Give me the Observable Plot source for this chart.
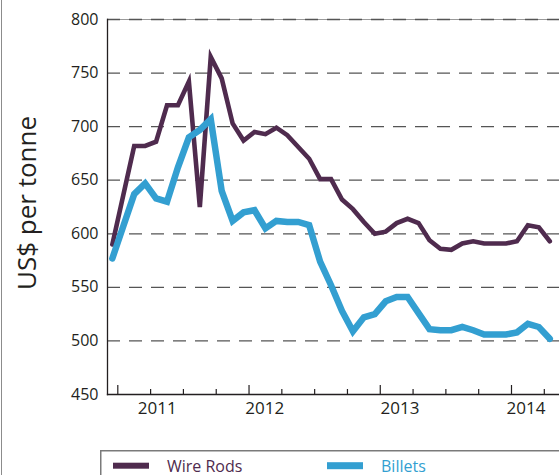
<!DOCTYPE html>
<html><head><meta charset="utf-8">
<script src="https://cdn.jsdelivr.net/npm/d3@7"></script>
<script src="https://cdn.jsdelivr.net/npm/@observablehq/plot@0.6"></script>
<style>
html,body{margin:0;padding:0;background:#fff;}
#wrap{position:relative;width:559px;height:475px;overflow:hidden;font-family:"Open Sans",sans-serif;}
#edge{position:absolute;left:0.5px;top:0;width:1.5px;height:475px;background:#8c8c8c;}
#wrap svg{display:block;}
</style></head><body><div id="wrap"><div id="edge"></div></div>
<script>
// Monthly prices, Dec 2010 – Apr 2014 (US$ per tonne)
const months = ["2010-12","2011-01","2011-02","2011-03","2011-04","2011-05","2011-06","2011-07","2011-08","2011-09","2011-10","2011-11",
  "2011-12","2012-01","2012-02","2012-03","2012-04","2012-05","2012-06","2012-07","2012-08","2012-09","2012-10","2012-11",
  "2012-12","2013-01","2013-02","2013-03","2013-04","2013-05","2013-06","2013-07","2013-08","2013-09","2013-10","2013-11",
  "2013-12","2014-01","2014-02","2014-03","2014-04"];
const wireRods = [590,636,682,682,686,720,720,742,625,765,745,703,
  687,695,693,699,692,681,670,651,651,632,623,611,
  600,602,610,614,610,594,586,585,591,593,591,591,
  591,593,608,606,593];
const billets = [577,607,637,647,633,630,662,690,697,707,640,612,
  620,622,605,612,611,611,608,574,552,528,509,522,
  525,537,541,541,526,511,510,510,513,510,506,506,
  506,508,516,513,502];
const seriesNames = ["Wire Rods","Billets"];
const seriesColors = ["#4f2b4e","#339fd1"];
const yTicks = [450,500,550,600,650,700,750,800];
const gridValues = [500,550,600,650,700,750,800];
const yearTicks = [2011,2012,2013,2014];
const quarterTicks = [2011.25,2011.5,2011.75,2012.25,2012.5,2012.75,2013.25,2013.5,2013.75,2014.25];
const xLabelText = ["2011","2012","2013","2014"];
const xLabelPos = [2011.30,2012.12,2013.15,2014.11];
const yTitle = "US$ per tonne";

const toYear = s => { const [y,m] = s.split("-").map(Number); return y + (m - 1 + 0.5) / 12; };
const rows = months.flatMap((m,i) => [
  {t: toYear(m), v: wireRods[i], s: seriesNames[0]},
  {t: toYear(m), v: billets[i], s: seriesNames[1]}
]);

const ink = "#231f20";
const chart = Plot.plot({
  width: 559, height: 440,
  marginLeft: 107, marginRight: 0, marginTop: 19, marginBottom: 46,
  style: {fontFamily: "'Open Sans', sans-serif", background: "transparent", color: ink, overflow: "visible"},
  x: {type: "linear", domain: [2010.9215, 2014.3658]},
  y: {domain: [450, 800]},
  marks: [
    Plot.ruleY([800], {stroke: "#9a9a9a", strokeWidth: 1}),
    Plot.ruleY(gridValues, {stroke: "#555", strokeWidth: 1.3, strokeDasharray: "13,9"}),
    Plot.line(rows.filter(d => d.s === seriesNames[0]), {x: "t", y: "v", stroke: seriesColors[0], strokeWidth: 4.6, strokeLinejoin: "miter", strokeMiterlimit: 10}),
    Plot.line(rows.filter(d => d.s === seriesNames[1]), {x: "t", y: "v", stroke: seriesColors[1], strokeWidth: 6.5, strokeLinejoin: "miter", strokeMiterlimit: 10}),
    Plot.frame({anchor: "left", stroke: ink, strokeWidth: 1.3}),
    Plot.frame({anchor: "bottom", stroke: ink, strokeWidth: 1.3}),
    Plot.ruleX(quarterTicks, {x: d => d, y1: 450, y2: 450, insetTop: -5, stroke: ink, strokeWidth: 1.2}),
    Plot.ruleX(yearTicks, {x: d => d, y1: 450, y2: 450, insetTop: -9, stroke: ink, strokeWidth: 1.2}),
    Plot.axisY({ticks: yTicks, tickSize: 0, tickPadding: 9, fontSize: 16, label: null, fill: ink}),
    Plot.axisX({ticks: xLabelPos, tickFormat: d => xLabelText[xLabelPos.indexOf(d)], tickSize: 0, tickPadding: 7, fontSize: 17, label: null, fill: ink}),
    Plot.text([yTitle], {frameAnchor: "left", textAnchor: "middle", lineAnchor: "middle", rotate: -90, dx: -80, dy: -4, fontSize: 26, fill: ink, text: d => d})
  ]
});
const wrap = document.getElementById("wrap");
wrap.appendChild(chart);

// Legend below the chart
const lg = d3.create("svg").attr("width", 559).attr("height", 35).style("display", "block")
  .style("font-family", "'Open Sans', sans-serif");
lg.append("rect").attr("x", 100.75).attr("y", 10.75).attr("width", 520).attr("height", 60)
  .attr("fill", "none").attr("stroke", "#7a7a7a").attr("stroke-width", 1.5);
const items = [{x: 113, tx: 167, h: 6}, {x: 327, tx: 381, h: 7}];
seriesNames.forEach((n, i) => {
  const it = items[i];
  lg.append("rect").attr("x", it.x).attr("y", 25.7 - it.h / 2).attr("width", 36).attr("height", it.h).attr("fill", seriesColors[i]);
  lg.append("text").attr("x", it.tx).attr("y", 31.5).attr("font-size", 16).attr("fill", seriesColors[i]).text(n);
});
wrap.appendChild(lg.node());
</script></body></html>
